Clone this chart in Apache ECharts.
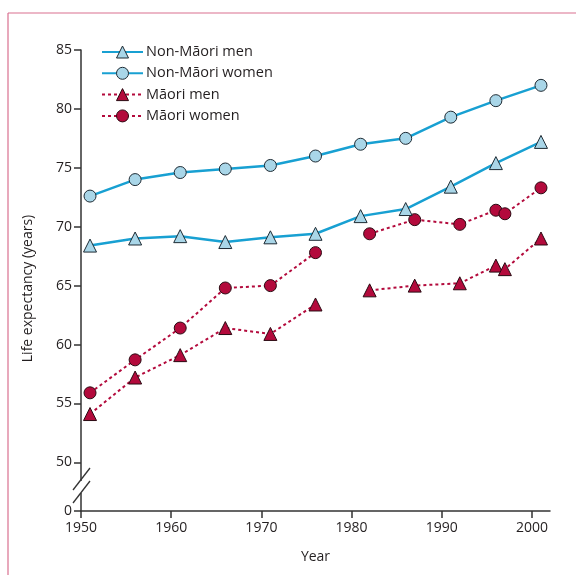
<!DOCTYPE html>
<html>
<head>
<meta charset="utf-8">
<script src="https://cdn.jsdelivr.net/npm/echarts@6/dist/echarts.min.js"></script>
<style>
  html, body { margin: 0; padding: 0; background: #fff; }
  #chart { width: 576px; height: 575px; }
</style>
</head>
<body>
<div id="chart"></div>
<script>
// values
const nonMaoriYears = [1951, 1956, 1961, 1966, 1971, 1976, 1981, 1986, 1991, 1996, 2001];
const nonMaoriMen   = [68.4, 69.0, 69.2, 68.7, 69.1, 69.4, 70.9, 71.5, 73.4, 75.4, 77.2];
const nonMaoriWomen = [72.6, 74.0, 74.6, 74.9, 75.2, 76.0, 77.0, 77.5, 79.3, 80.7, 82.0];

// null = break in the series (no data between 1976 and 1982)
const maoriYears = [1951, 1956, 1961, 1966, 1971, 1976, 1979, 1982, 1987, 1992, 1996, 1997, 2001];
const maoriMen   = [54.1, 57.2, 59.1, 61.4, 60.9, 63.4, null, 64.6, 65.0, 65.2, 66.7, 66.4, 69.0];
const maoriWomen = [55.9, 58.7, 61.4, 64.8, 65.0, 67.8, null, 69.4, 70.6, 70.2, 71.4, 71.1, 73.3];

const yTicks = [45.87, 50, 55, 60, 65, 70, 75, 80, 85];  // lowest one is shown as 0 (broken axis)
const xTicks = [1950, 1960, 1970, 1980, 1990, 2000];

const blue = '#18a0d2';
const lightBlue = '#a9d6e8';
const red = '#b30a3c';
const ink = '#231f20';
const font = 'Open Sans';

function pairs(xs, ys) {
    return xs.map((x, i) => [x, ys[i] == null ? '-' : ys[i]]);
}

const chart = echarts.init(document.getElementById('chart'));

const option = {
    animation: false,
    textStyle: { fontFamily: font, color: ink },
    grid: { left: 81, right: 26, top: 50, bottom: 64 },
    legend: {
        orient: 'vertical',
        left: 101,
        top: 44.5,
        padding: 0,
        itemWidth: 41,
        itemHeight: 15,
        itemGap: 6.3,
        itemStyle: { borderWidth: 1 },
        textStyle: { fontFamily: font, fontSize: 14.5, color: ink, padding: [0, 0, 0, -2] },
        data: ['Non-Māori men', 'Non-Māori women', 'Māori men', 'Māori women']
    },
    xAxis: {
        type: 'value',
        min: 1950,
        max: 2002,
        name: 'Year',
        nameLocation: 'middle',
        nameGap: 39,
        nameTextStyle: { fontFamily: font, fontSize: 14, color: ink },
        axisLine: { lineStyle: { color: '#333', width: 1.5 } },
        axisTick: { length: 7, lineStyle: { color: '#333', width: 1.5 }, customValues: xTicks },
        axisLabel: {
            customValues: xTicks, fontFamily: font, fontSize: 14, color: ink, margin: 10,
            formatter: v => String(v)
        },
        splitLine: { show: false }
    },
    yAxis: {
        type: 'value',
        min: 45.87,
        max: 85,
        name: 'Life expectancy (years)',
        nameLocation: 'middle',
        nameGap: 46,
        nameTextStyle: { fontFamily: font, fontSize: 14, color: ink, padding: [0, 16, 0, 0] },
        axisLine: { show: true, lineStyle: { color: '#333', width: 1.5 } },
        axisTick: { show: true, length: 7, lineStyle: { color: '#333', width: 1.5 }, customValues: yTicks },
        axisLabel: {
            customValues: yTicks,
            fontFamily: font, fontSize: 14, color: ink, margin: 9,
            formatter: v => (v < 50 ? '0' : String(v))
        },
        splitLine: { show: false }
    },
    series: [
        {
            name: 'Non-Māori men', type: 'line',
            data: pairs(nonMaoriYears, nonMaoriMen),
            symbol: 'triangle', symbolSize: 13,
            lineStyle: { color: blue, width: 2.5 },
            itemStyle: { color: lightBlue, borderColor: '#1d2a33', borderWidth: 1 },
            z: 3
        },
        {
            name: 'Non-Māori women', type: 'line',
            data: pairs(nonMaoriYears, nonMaoriWomen),
            symbol: 'circle', symbolSize: 12,
            lineStyle: { color: blue, width: 2.5 },
            itemStyle: { color: lightBlue, borderColor: '#1d2a33', borderWidth: 1 },
            z: 3
        },
        {
            name: 'Māori men', type: 'line',
            data: pairs(maoriYears, maoriMen),
            symbol: 'triangle', symbolSize: 13,
            connectNulls: false,
            lineStyle: { color: red, width: 2, type: [3, 3] },
            itemStyle: { color: red, borderColor: '#2a0a12', borderWidth: 1 },
            z: 2
        },
        {
            name: 'Māori women', type: 'line',
            data: pairs(maoriYears, maoriWomen),
            symbol: 'circle', symbolSize: 12,
            connectNulls: false,
            lineStyle: { color: red, width: 2, type: [3, 3] },
            itemStyle: { color: red, borderColor: '#2a0a12', borderWidth: 1 },
            z: 2
        }
    ],
    graphic: [
        // panel frame (top and left rules)
        { type: 'line', shape: { x1: 8, y1: 13, x2: 576, y2: 13 }, style: { stroke: '#d9708f', lineWidth: 1.2 } },
        { type: 'line', shape: { x1: 8, y1: 13, x2: 8, y2: 575 }, style: { stroke: '#d9708f', lineWidth: 1.2 } },
        // axis break
        { type: 'rect', shape: { x: 78, y: 481, width: 6, height: 12 }, style: { fill: '#fff' }, z: 10 },
        { type: 'line', shape: { x1: 73, y1: 490, x2: 90, y2: 468 }, style: { stroke: '#333', lineWidth: 1.3 }, z: 11 },
        { type: 'line', shape: { x1: 73, y1: 503, x2: 90, y2: 481 }, style: { stroke: '#333', lineWidth: 1.3 }, z: 11 }
    ]
};

chart.setOption(option);

window.addEventListener('resize', function () {
    chart.resize();
});
</script>
</body>
</html>
